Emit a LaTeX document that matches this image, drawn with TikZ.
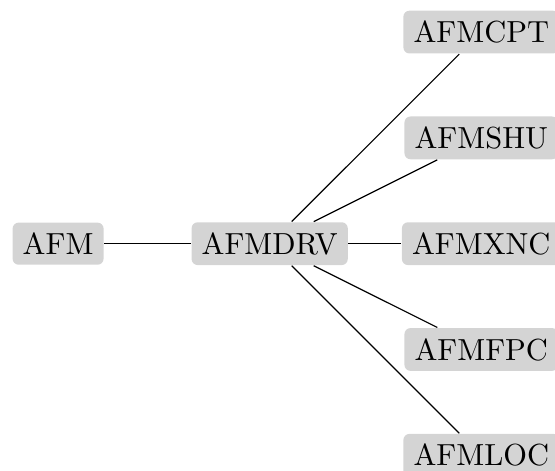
\documentclass[tikz,border=0pt]{standalone}

\begin{document}
\begin{tikzpicture}[box/.style={fill=black!17, rounded corners=2pt}]
                \useasboundingbox (-3.11,-2.62) rectangle (3.29,2.81);

                \node[box] (afm) at (-2.44,0) {AFM};
                \node[box] (drv) at (0,0) {AFMDRV};

                \node[box] (cpt) at (2.44,2.44) {AFMCPT};
                \node[box] (shu) at (2.44,1.22) {AFMSHU};
                \node[box] (xnc) at (2.44,0) {AFMXNC};
                \node[box] (fpc) at (2.44,-1.22) {AFMFPC};
                \node[box] (loc) at (2.44,-2.44) {AFMLOC};

                \draw (afm) -- (drv);
                \foreach \n in {cpt,shu,xnc,fpc,loc}
                    \draw (drv) -- (\n);

            \end{tikzpicture}
\end{document}
